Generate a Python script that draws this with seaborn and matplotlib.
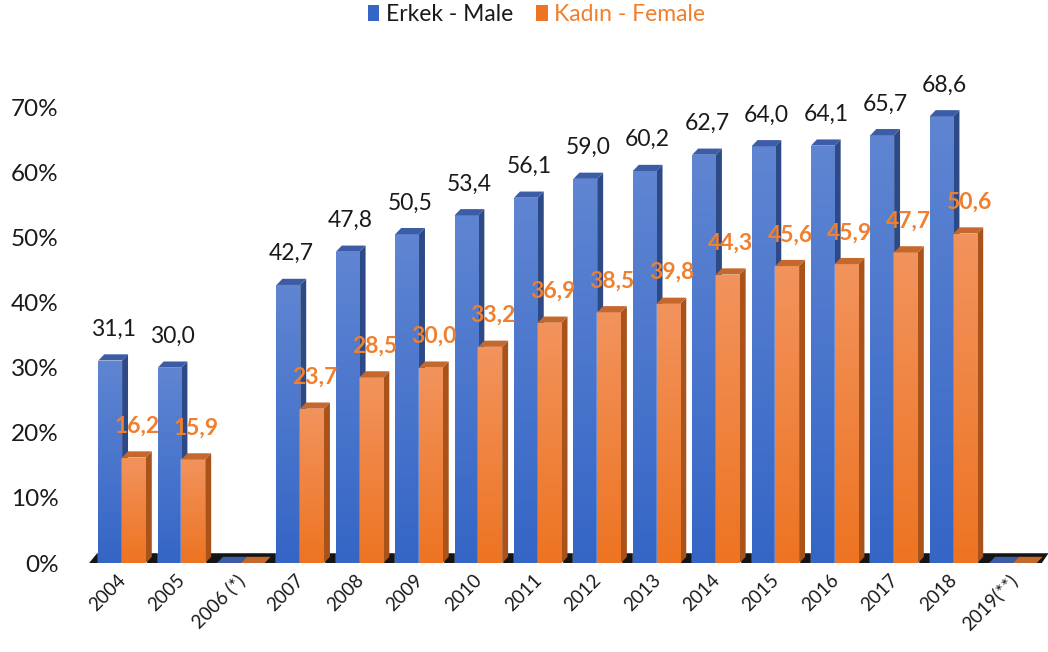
import numpy as np
import pandas as pd
import matplotlib
matplotlib.use("Agg")
import matplotlib.pyplot as plt
import matplotlib.transforms as mtransforms
import seaborn as sns
from matplotlib.colors import LinearSegmentedColormap
from matplotlib.patches import Polygon, Patch
from matplotlib.ticker import FuncFormatter

YEARS = ["2004", "2005", "2006 (*)", "2007", "2008", "2009", "2010", "2011",
         "2012", "2013", "2014", "2015", "2016", "2017", "2018", "2019(**)"]
MALE = [31.1, 30.0, np.nan, 42.7, 47.8, 50.5, 53.4, 56.1,
        59.0, 60.2, 62.7, 64.0, 64.1, 65.7, 68.6, np.nan]
FEMALE = [16.2, 15.9, np.nan, 23.7, 28.5, 30.0, 33.2, 36.9,
          38.5, 39.8, 44.3, 45.6, 45.9, 47.7, 50.6, np.nan]
SERIES = ["Erkek - Male", "Kadın - Female"]

# front gradient (top, bottom), side, top face, label colour
STYLE = {
    SERIES[0]: dict(grad=("#5f85d2", "#3566c6"), side="#2d4a86", top="#3c5da6", label="#1a1a1a", weight="normal"),
    SERIES[1]: dict(grad=("#f2935d", "#ed7422"), side="#a9531b", top="#c4682e", label="#f07f2e", weight="bold"),
}

FONT = ["Lato", "DejaVu Sans"]
DX, DY = 0.10, 0.95  # fake 3d depth in data units

df = pd.DataFrame({
    "year": YEARS * 2,
    "series": [SERIES[0]] * len(YEARS) + [SERIES[1]] * len(YEARS),
    "value": MALE + FEMALE,
})
df["drawn"] = df["value"].fillna(0)

sns.set_theme(style="white")
plt.rcParams["font.family"] = FONT

fig = plt.figure(figsize=(10.48, 6.52), dpi=100)
ax = fig.add_axes([0.0825, 0.1365, 0.918, 0.749])

sns.barplot(data=df, x="year", y="drawn", hue="series", order=YEARS, hue_order=SERIES,
            palette=[STYLE[s]["grad"][1] for s in SERIES], width=0.8, saturation=1,
            legend=False, ax=ax)

xmin, xmax = -0.6, 15.6

# floor
floor = Polygon([(xmin, -0.5), (xmax - 0.15, -0.5), (xmax, 1.5), (xmin + 0.18, 1.5)],
                closed=True, facecolor="#151515", edgecolor="none", zorder=1)
ax.add_patch(floor)
shadow = Polygon([(xmin + 0.02, -0.9), (xmax - 0.13, -0.9), (xmax - 0.15, -0.5), (xmin, -0.5)],
                 closed=True, facecolor="#9a9a9a", edgecolor="none", zorder=1)
ax.add_patch(shadow)

for si, (name, container) in enumerate(zip(SERIES, ax.containers)):
    st = STYLE[name]
    cmap = LinearSegmentedColormap.from_list(name, [st["grad"][1], st["grad"][0]])
    vals = df.loc[df["series"] == name, "value"].to_list()
    z = 2 + si
    for rect, v in zip(container.patches, vals):
        x0, w, h = rect.get_x(), rect.get_width(), rect.get_height()
        rect.set_zorder(z)
        if h > 0:
            grad = np.linspace(0, 1, 64).reshape(-1, 1)
            im = ax.imshow(grad, cmap=cmap, origin="lower", aspect="auto",
                           extent=[x0, x0 + w, 0, h], zorder=z + 0.01)
            im.set_clip_path(rect)
        side = Polygon([(x0 + w, 0), (x0 + w + DX, DY), (x0 + w + DX, h + DY), (x0 + w, h)],
                       closed=True, facecolor=st["side"], edgecolor="none", zorder=z)
        top = Polygon([(x0, h), (x0 + DX, h + DY), (x0 + w + DX, h + DY), (x0 + w, h)],
                      closed=True, facecolor=st["top"], edgecolor="none", zorder=z + 0.02)
        ax.add_patch(side)
        ax.add_patch(top)
        if not np.isnan(v):
            ax.text(x0 + w / 2 + DX / 2, h + 4.8, f"{v:.1f}".replace(".", ","),
                    ha="center", va="center", fontsize=16.5, color=st["label"],
                    fontweight=st["weight"], zorder=10, clip_on=False)

ax.set_xlim(xmin, xmax)
ax.set_ylim(0, 75)
ax.set_yticks(range(0, 71, 10))
ax.yaxis.set_major_formatter(FuncFormatter(lambda v, _: f"{v:.0f}%"))
ax.tick_params(axis="y", labelsize=17.5, colors="#1a1a1a", length=0, pad=20)
ax.tick_params(axis="x", labelsize=13.5, colors="#1a1a1a", length=0, pad=6)
shift = mtransforms.ScaledTranslation(-5 / 100, 0, fig.dpi_scale_trans)
for lab in ax.get_xticklabels():
    lab.set_rotation(45)
    lab.set_ha("right")
    lab.set_rotation_mode("anchor")
    lab.set_transform(lab.get_transform() + shift)
ax.set_xlabel("")
ax.set_ylabel("")
sns.despine(ax=ax, left=True, bottom=True)

handles = [Patch(facecolor=STYLE[s]["grad"][1], edgecolor="none") for s in SERIES]
leg = fig.legend(handles, SERIES, loc="center", bbox_to_anchor=(0.512, 0.977), ncol=2,
                 frameon=False, fontsize=16.5, handlelength=0.5, handleheight=0.7,
                 handletextpad=0.3, columnspacing=1.0)
for txt, s in zip(leg.get_texts(), SERIES):
    txt.set_color(STYLE[s]["label"] if s == SERIES[1] else "#1a1a1a")

fig.savefig("out.png", dpi=100)
